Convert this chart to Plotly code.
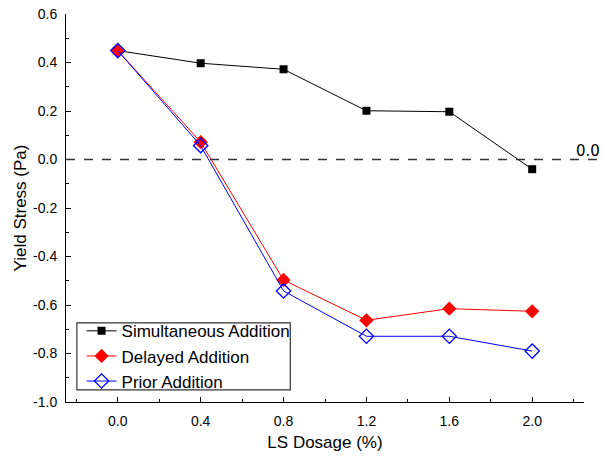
import plotly.graph_objects as go

dosage = [0.0, 0.4, 0.8, 1.2, 1.6, 2.0]
simultaneous = [0.449, 0.397, 0.372, 0.201, 0.197, -0.040]
delayed = [0.449, 0.072, -0.497, -0.663, -0.615, -0.626]
prior = [0.449, 0.057, -0.542, -0.729, -0.729, -0.790]

fig = go.Figure()
fig.add_trace(go.Scatter(x=dosage, y=simultaneous, mode="lines+markers", name="Simultaneous Addition",
                         line=dict(color="black", width=1), marker=dict(symbol="square", size=8, color="black")))
fig.add_trace(go.Scatter(x=dosage, y=delayed, mode="lines+markers", name="Delayed Addition",
                         line=dict(color="red", width=1), marker=dict(symbol="diamond", size=11, color="red")))
fig.add_trace(go.Scatter(x=dosage, y=prior, mode="lines+markers", name="Prior Addition",
                         line=dict(color="blue", width=1),
                         marker=dict(symbol="diamond-open", size=11, color="blue", line=dict(width=1.3))))

fig.add_shape(type="line", xref="paper", yref="y", x0=0, x1=1.05, y0=0, y1=0,
              line=dict(color="#333333", width=1.5, dash="dash"))
# legend frame
fig.add_shape(type="rect", xref="paper", yref="paper", x0=0.021, x1=0.433, y0=0.031, y1=0.204,
              line=dict(color="#333333", width=1.2), fillcolor="white", layer="above")
fig.add_annotation(xref="paper", yref="y", x=1.035, y=0, text="0.0", showarrow=False,
                   xanchor="right", yanchor="bottom", yshift=-2,
                   font=dict(size=15, color="black", family="DejaVu Sans"))

fig.update_layout(
    width=604, height=458,
    margin=dict(l=66, r=20, t=14, b=56, autoexpand=False),
    plot_bgcolor="white", paper_bgcolor="white",
    font=dict(family="Liberation Sans, Arial, sans-serif", color="black", size=14),
    showlegend=True,
    legend=dict(x=0.03, y=0.007, xanchor="left", yanchor="bottom", bgcolor="rgba(0,0,0,0)",
                borderwidth=0, font=dict(size=17),
                tracegroupgap=0, itemwidth=30),
    xaxis=dict(range=[-0.25, 2.25], tickvals=[0.0, 0.4, 0.8, 1.2, 1.6, 2.0],
               ticktext=["0.0", "0.4", "0.8", "1.2", "1.6", "2.0"],
               ticks="inside", ticklen=5, tickcolor="black", showline=True, linecolor="black",
               linewidth=1, showgrid=False, zeroline=False, ticklabelstandoff=6, automargin=False,
               minor=dict(tickvals=[-0.2, 0.2, 0.6, 1.0, 1.4, 1.8, 2.2], ticks="inside", ticklen=3, tickcolor="black"),
               title=dict(text="LS Dosage (%)", font=dict(size=17), standoff=8), tickfont=dict(size=14)),
    yaxis=dict(range=[-1.0, 0.6], tickvals=[-1.0, -0.8, -0.6, -0.4, -0.2, 0.0, 0.2, 0.4, 0.6],
               ticktext=["-1.0", "-0.8", "-0.6", "-0.4", "-0.2", "0.0", "0.2", "0.4", "0.6"],
               ticks="inside", ticklen=5, tickcolor="black", showline=True, linecolor="black",
               linewidth=1, showgrid=False, zeroline=False, ticklabelstandoff=5, automargin=False,
               minor=dict(tickvals=[-0.9, -0.7, -0.5, -0.3, -0.1, 0.1, 0.3, 0.5], ticks="inside", ticklen=3, tickcolor="black"),
               title=dict(text="Yield Stress (Pa)", font=dict(size=17), standoff=2), tickfont=dict(size=14)),
)
fig.write_html("out.html")
